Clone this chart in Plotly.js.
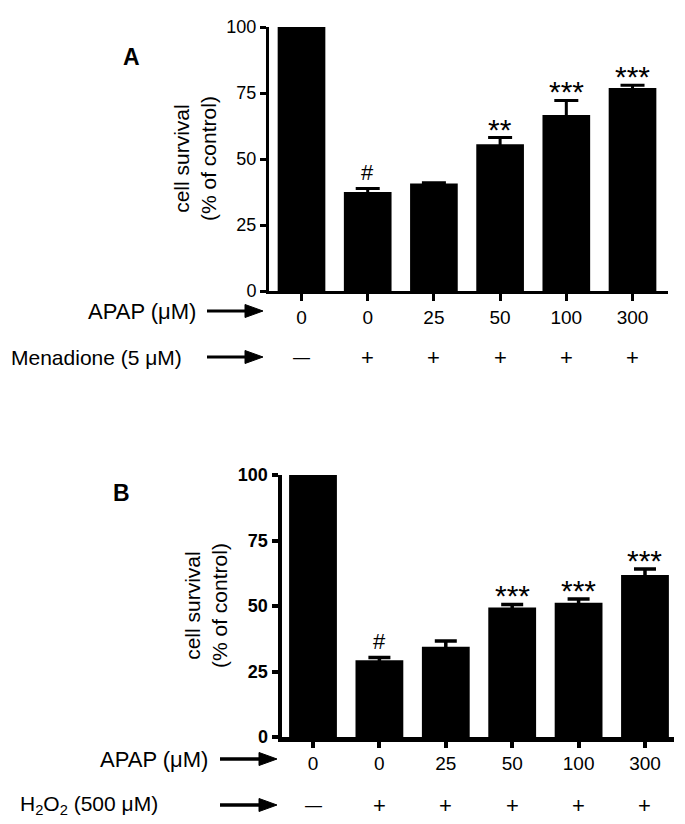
<!DOCTYPE html>
<html>
<head>
<meta charset="utf-8">
<script src="https://cdn.plot.ly/plotly-3.0.1.min.js"></script>
<style>html,body{margin:0;padding:0;background:#fff;}#chart{width:685px;height:824px;}</style>
</head>
<body>
<div id="chart"></div>
<script>
// ---- data ----
const apapDoses = ['0', '0', '25', '50', '100', '300'];
const menadioneRow = ['\u2014', '+', '+', '+', '+', '+'];
const h2o2Row = ['\u2014', '+', '+', '+', '+', '+'];
const survivalA = [100, 37.5, 40.7, 55.6, 66.7, 76.9];
const errA = [0, 1.3, 0.3, 2.5, 5.5, 1.0];
const sigA = ['', '#', '', '**', '***', '***'];
const survivalB = [100, 29.3, 34.4, 49.4, 51.2, 61.8];
const errB = [0, 1.0, 2.2, 1.2, 1.5, 2.3];
const sigB = ['', '#', '', '***', '***', '***'];
const yTicks = [0, 25, 50, 75, 100];

// ---- helpers (pixel -> paper) ----
const W = 685, H = 824;
const X = p => p / W;
const Y = p => 1 - p / H;
const FONT = 'Liberation Sans, Arial, sans-serif';
const idx = apapDoses.map((_, i) => i);

const traces = [
  {
    type: 'bar', x: idx, y: survivalA, xaxis: 'x', yaxis: 'y',
    marker: {color: '#000', line: {width: 0}},
    error_y: {type: 'data', array: errA, visible: true, color: '#000', thickness: 3, width: 12},
    hoverinfo: 'skip'
  },
  {
    type: 'bar', x: idx, y: survivalB, xaxis: 'x2', yaxis: 'y2',
    marker: {color: '#000', line: {width: 0}},
    error_y: {type: 'data', array: errB, visible: true, color: '#000', thickness: 3.5, width: 11},
    hoverinfo: 'skip'
  }
];

const annotations = [];
function sigAnn(sig, vals, errs, xref, yref) {
  sig.forEach((s, i) => {
    if (!s) return;
    const isHash = s === '#';
    annotations.push({
      x: i, y: vals[i] + errs[i], xref: xref, yref: yref,
      text: s, showarrow: false, xanchor: 'center', yanchor: 'bottom',
      yshift: isHash ? 2 : -10,
      font: {family: FONT, size: isHash ? 22 : 30, color: '#000'}
    });
  });
}
sigAnn(sigA, survivalA, errA, 'x', 'y');
sigAnn(sigB, survivalB, errB, 'x2', 'y2');

function rowAnn(row, xref, py) {
  row.forEach((s, i) => annotations.push({
    x: i, y: Y(py), xref: xref, yref: 'paper', text: s, showarrow: false,
    xanchor: 'center', yanchor: 'middle',
    font: {family: FONT, size: s === '+' ? 22 : 17, color: '#000'}
  }));
}
rowAnn(menadioneRow, 'x', 357);
rowAnn(h2o2Row, 'x2', 805);

function label(text, pxRight, py, size) {
  annotations.push({
    x: X(pxRight), y: Y(py), xref: 'paper', yref: 'paper', text: text,
    showarrow: false, xanchor: 'right', yanchor: 'middle',
    font: {family: FONT, size: size || 22, color: '#000'}
  });
}
label('APAP (\u03bcM)', 198, 311);
label('Menadione (5 \u03bcM)', 184, 357, 21);
label('APAP (\u03bcM)', 210, 759);
label('H<sub>2</sub>O<sub>2</sub> (500 \u03bcM)', 160, 805, 21);

function centered(text, px, py, size, angle) {
  annotations.push({x: X(px), y: Y(py), xref: 'paper', yref: 'paper', text: text, showarrow: false,
    xanchor: 'center', yanchor: 'middle', textangle: angle || 0,
    font: {family: FONT, size: size, color: '#000'}});
}
// panel letters
centered('<b>A</b>', 131, 57, 23);
centered('<b>B</b>', 121, 493, 23);
// y titles
centered('cell survival<br>(% of control)', 195, 159, 21, -90);
centered('cell survival<br>(% of control)', 206, 606, 21, -90);

// arrows as shapes
const shapes = [];
function arrow(x0, x1, py, w) {
  shapes.push({type: 'line', xref: 'paper', yref: 'paper', x0: X(x0), x1: X(x1 - 14), y0: Y(py), y1: Y(py),
    line: {color: '#000', width: w}});
  shapes.push({type: 'path', xref: 'paper', yref: 'paper',
    path: `M ${X(x1 - 18)} ${Y(py - 6.5)} L ${X(x1)} ${Y(py)} L ${X(x1 - 18)} ${Y(py + 6.5)} Z`,
    fillcolor: '#000', line: {color: '#000', width: 1}});
}
arrow(207, 263, 311, 3);
arrow(207, 263, 357, 3);
arrow(220, 277, 759, 3.5);
arrow(220, 277, 805, 3.5);

const xCommon = {
  tickvals: idx, ticktext: apapDoses, ticks: 'outside', tickcolor: '#000',
  showline: true, linecolor: '#000', showgrid: false, zeroline: false, fixedrange: true,
  tickfont: {family: FONT, size: 19, color: '#000'}
};
const yCommon = {
  range: [0, 100], tickvals: yTicks, ticks: 'outside', tickcolor: '#000',
  showline: true, linecolor: '#000', showgrid: false, zeroline: false, fixedrange: true
};

const layout = {
  width: W, height: H, margin: {l: 0, r: 0, t: 0, b: 0},
  paper_bgcolor: '#fff', plot_bgcolor: '#fff', showlegend: false,
  bargap: 0.28,
  xaxis: Object.assign({}, xCommon, {
    domain: [X(269), X(668)], range: [-0.491, 5.536], anchor: 'y',
    ticklen: 7, tickwidth: 3, linewidth: 3
  }),
  yaxis: Object.assign({}, yCommon, {
    domain: [Y(291), Y(27)], anchor: 'x', ticklen: 6, tickwidth: 3, linewidth: 3,
    tickfont: {family: FONT, size: 18, color: '#000'}
  }),
  xaxis2: Object.assign({}, xCommon, {
    domain: [X(282), X(674)], range: [-0.467, 5.437], anchor: 'y2',
    ticklen: 6, tickwidth: 4, linewidth: 4.5
  }),
  yaxis2: Object.assign({}, yCommon, {
    domain: [Y(737), Y(475)], anchor: 'x2', ticklen: 6, tickwidth: 4, linewidth: 4.5,
    tickfont: {family: FONT, size: 18, color: '#000', weight: 700}
  }),
  annotations: annotations,
  shapes: shapes
};

Plotly.newPlot('chart', traces, layout, {staticPlot: true, displayModeBar: false});
</script>
</body>
</html>
